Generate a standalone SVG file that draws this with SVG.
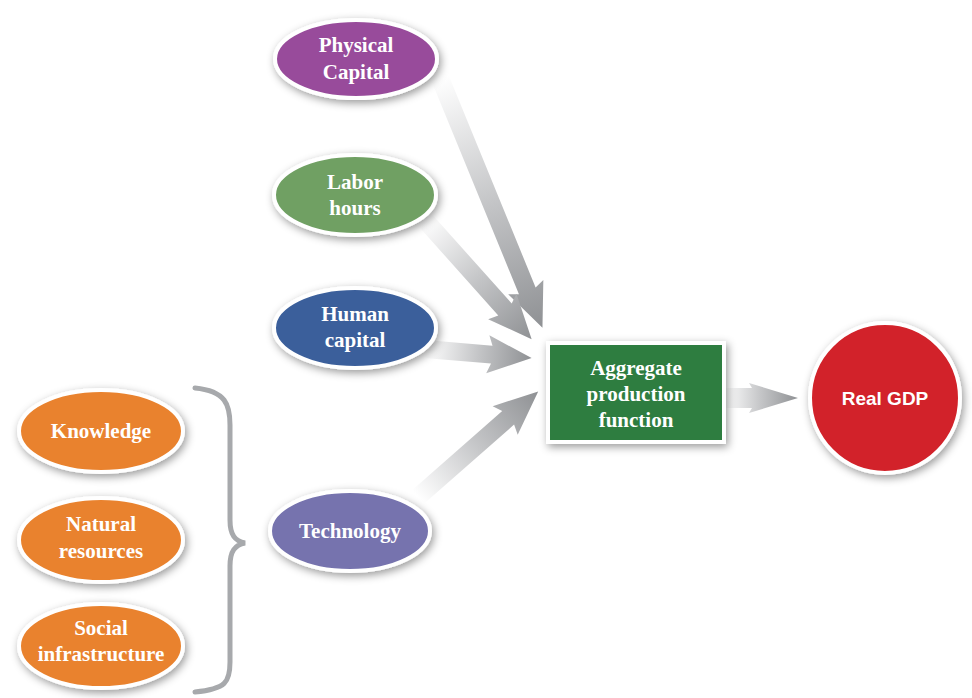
<svg xmlns="http://www.w3.org/2000/svg" width="972" height="698" viewBox="0 0 972 698">
<defs>
<linearGradient id="ag" x1="0" y1="0" x2="1" y2="0">
<stop offset="0" stop-color="#ffffff"/>
<stop offset="0.5" stop-color="#c4c5c7"/>
<stop offset="1" stop-color="#8f9194"/>
</linearGradient>
<filter id="sh" x="-30%" y="-30%" width="160%" height="160%">
<feDropShadow dx="2" dy="3" stdDeviation="4" flood-color="#000" flood-opacity="0.4"/>
</filter>
</defs>
<style>
.n{stroke:#fff;stroke-width:4;filter:url(#sh)}
.t{font-family:"Liberation Serif","Times New Roman",serif;font-weight:bold;font-size:21px;fill:#fff;text-anchor:middle}
.s{font-family:"Liberation Sans",Arial,sans-serif;font-weight:bold;font-size:19px;fill:#fff;text-anchor:middle}
.a{fill:url(#ag)}
</style>
<rect width="972" height="698" fill="#fff"/>
<g id="connectors">
<path class="a" transform="translate(440,78) rotate(67.7)" d="M0,-9 L230,-9 L226,-19 L270,0 L226,19 L230,9 L0,9 Z"/>
<path class="a" transform="translate(425,220) rotate(48.2)" d="M0,-9 L120,-9 L116,-19 L160,0 L116,19 L120,9 L0,9 Z"/>
<path class="a" transform="translate(425,349) rotate(4.8)" d="M0,-9 L67,-9 L63,-19 L107,0 L63,19 L67,9 L0,9 Z"/>
<path class="a" transform="translate(418,497) rotate(-41.3)" d="M0,-9 L120,-9 L116,-19 L160,0 L116,19 L120,9 L0,9 Z"/>
<path class="a" transform="translate(724,398)" d="M0,-10 L28,-10 L25,-15 L74,0 L25,15 L28,10 L0,10 Z"/>
<path d="M195,388 C226,391 230,405 230,425 L230,520 C230,535 235,541 245,543 C235,545 230,551 230,566 L230,662 C230,682 226,689 195,692" fill="none" stroke="#a7a9ac" stroke-width="5" stroke-linecap="round"/>
</g>
<g id="physical">
<ellipse class="n" cx="356" cy="59" rx="81" ry="39" fill="#984c9b"/>
<text class="t" x="356" y="52">Physical</text>
<text class="t" x="356" y="79">Capital</text>
</g>
<g id="labor">
<ellipse class="n" cx="355" cy="195" rx="81" ry="40" fill="#70a063"/>
<text class="t" x="355" y="189">Labor</text>
<text class="t" x="355" y="215">hours</text>
</g>
<g id="human">
<ellipse class="n" cx="355" cy="328" rx="81" ry="40" fill="#3b5f9b"/>
<text class="t" x="355" y="321">Human</text>
<text class="t" x="355" y="347">capital</text>
</g>
<g id="technology">
<ellipse class="n" cx="350" cy="531" rx="80" ry="40" fill="#7673ae"/>
<text class="t" x="350" y="538">Technology</text>
</g>
<g id="knowledge">
<ellipse class="n" cx="101" cy="431" rx="82" ry="41" fill="#e9822d"/>
<text class="t" x="101" y="438">Knowledge</text>
</g>
<g id="natural">
<ellipse class="n" cx="101" cy="540" rx="82" ry="42" fill="#e9822d"/>
<text class="t" x="101" y="531">Natural</text>
<text class="t" x="101" y="558">resources</text>
</g>
<g id="social">
<ellipse class="n" cx="101" cy="646" rx="82" ry="42" fill="#e9822d"/>
<text class="t" x="101" y="635">Social</text>
<text class="t" x="101" y="661">infrastructure</text>
</g>
<g id="aggregate">
<rect class="n" x="548" y="343" width="176" height="99" fill="#2e7d3f" stroke-width="6"/>
<text class="t" x="636" y="375">Aggregate</text>
<text class="t" x="636" y="401">production</text>
<text class="t" x="636" y="427">function</text>
</g>
<g id="gdp">
<circle class="n" cx="885" cy="398" r="75" fill="#d2232a"/>
<text class="s" x="885" y="405">Real GDP</text>
</g>
</svg>
